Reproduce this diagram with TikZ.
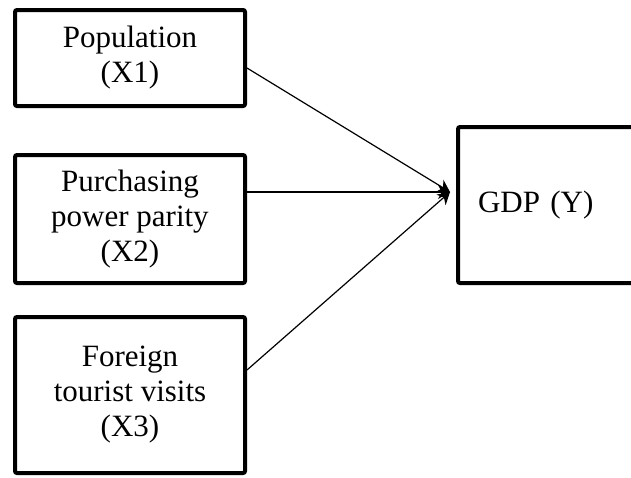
\documentclass[tikz,border=0pt]{standalone}
\usepackage{fontspec}
\setmainfont{Liberation Serif}
\usepackage{tikz}
\usetikzlibrary{arrows.meta, positioning}
\tikzset{
    varbox/.style={rectangle, rounded corners=1pt, minimum width=115pt, text centered, align=center, draw=black, line width=2pt, font=\fontsize{15.5}{17.5}\selectfont},
    outbox/.style={rectangle, rounded corners=1pt, minimum height=78pt, text width=80pt, inner xsep=10pt, align=left, draw=black, line width=2pt, font=\fontsize{15.5}{17.5}\selectfont},
    arrow/.style={line width=0.6pt, -{Stealth[length=6pt,width=7pt]}}
}
\begin{document}
\begin{tikzpicture}[x=0.5pt, y=-0.5pt]
    \useasboundingbox (0,0) rectangle (631,477);
    \node (pop) [varbox, minimum height=48pt] at (130,58) {Population\\(X1)};
    \node (ppp) [varbox, minimum height=64pt, below=22.5pt of pop] {Purchasing\\power parity\\(X2)};
    \node (tour) [varbox, minimum height=78pt, below=15pt of ppp] {Foreign\\tourist visits\\(X3)};
    \node (gdp) [outbox] at (558,205) {GDP (Y)};
    \coordinate (hit) at ([xshift=-3pt, yshift=6.5pt]gdp.west);

    \draw [arrow] ([yshift=-5pt]pop.east) -- (hit);
    \draw [arrow] (ppp.east |- hit) -- (hit);
    \draw [arrow] ([yshift=12.5pt]tour.east) -- (hit);
\end{tikzpicture}
\end{document}
